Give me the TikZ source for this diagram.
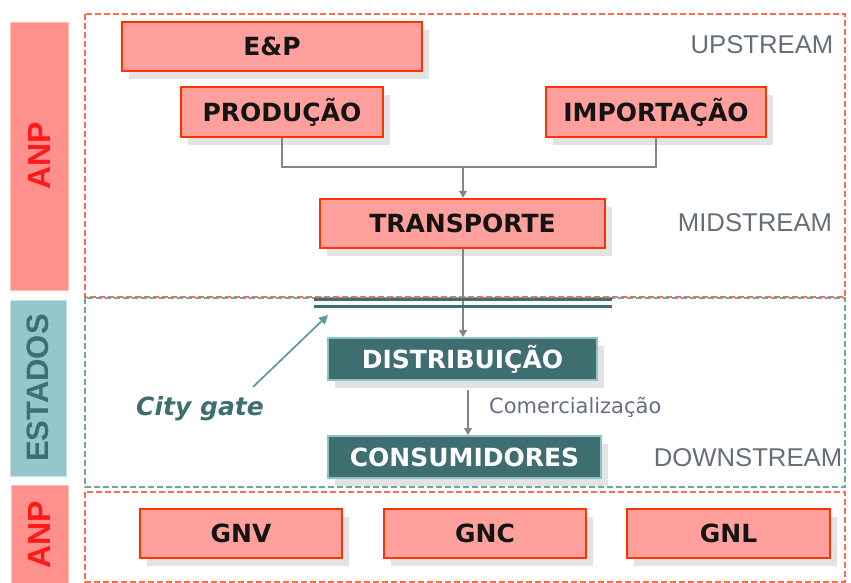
\documentclass[tikz,border=0pt]{standalone}
\usepackage{fontspec}
\setmainfont{Liberation Sans}
\newfontfamily\dejavu{DejaVu Sans}
\usetikzlibrary{shadows,arrows.meta,calc}
\definecolor{boxfill}{HTML}{FFA09C}
\definecolor{boxline}{HTML}{FF3300}
\definecolor{shadowgray}{HTML}{E3E3E3}
\definecolor{tealdark}{HTML}{3F6E70}
\definecolor{teallight}{HTML}{8CC4C6}
\definecolor{barred}{HTML}{FF908C}
\definecolor{barredline}{HTML}{F3C9B5}
\definecolor{barteal}{HTML}{95C7CA}
\definecolor{barteallline}{HTML}{C8E2E4}
\definecolor{ancred}{HTML}{FF1A1A}
\definecolor{stagegray}{HTML}{666E7A}
\definecolor{dashred}{HTML}{FF6A50}
\definecolor{dashteal}{HTML}{6FA5A8}
\definecolor{flowgray}{HTML}{858585}
\definecolor{comgray}{HTML}{666C88}
\definecolor{gatearrow}{HTML}{5F989C}
\begin{document}
\begin{tikzpicture}[x=1pt,y=-1pt,
  boxshadow/.style={drop shadow={shadow xshift=7pt,shadow yshift=-8pt,fill=shadowgray,opacity=1}},
  redbox/.style={boxshadow,draw=boxline,line width=2.4pt,fill=boxfill,minimum height=49pt,inner sep=0pt,
     font=\dejavu\bfseries\fontsize{25}{28}\selectfont,text=black!92},
  tealbox/.style={boxshadow,draw=teallight,line width=2pt,fill=tealdark,minimum height=42pt,inner sep=0pt,
     font=\dejavu\bfseries\fontsize{25}{28}\selectfont,text=white},
  sidebar/.style={inner sep=0pt,line width=0.8pt},
  stagelabel/.style={font=\fontsize{25.7}{28}\selectfont,text=stagegray,inner sep=0pt},
  flow/.style={draw=flowgray,line width=1.3pt},
  flowarrow/.style={flow,-{Triangle[width=8pt,length=7pt]}},
  dashbox/.style={line width=1.3pt,dash pattern=on 6pt off 3pt}
]
\useasboundingbox (0,0) rectangle (851,583);
% dashed frames
\draw[dashbox,draw=dashred] (85,14) rectangle (845,297);
\draw[dashbox,draw=dashteal] (85,298) rectangle (845,487);
\draw[dashbox,draw=dashred] (85,492) rectangle (845,582);
% side bars
\node[sidebar,draw=barredline,fill=barred,minimum width=58pt,minimum height=268pt] (anp1) at (39,156) {};
\node[rotate=90,font=\bfseries\fontsize{32}{34}\selectfont,text=ancred] (anp1t) at (anp1.center) {ANP};
\node[sidebar,draw=barteallline,fill=barteal,minimum width=56pt,minimum height=176pt] (est) at (38,388) {};
\node[rotate=90,font=\bfseries\fontsize{31}{34}\selectfont,text=tealdark] (estt) at (est.center) {ESTADOS};
\node[sidebar,draw=barredline,fill=barred,minimum width=57pt,minimum height=100pt] (anp2) at (39.5,535) {};
\node[rotate=90,font=\bfseries\fontsize{32}{34}\selectfont,text=ancred] (anp2t) at (anp2.center) {ANP};
% boxes
\node[redbox,minimum width=300pt] (ep) at (272,46.5) {E\&P};
\node[redbox,minimum width=202pt,minimum height=50pt] (prod) at (282,112) {PRODUÇÃO};
\node[redbox,minimum width=220pt,minimum height=50pt] (imp) at (656,112) {IMPORTAÇÃO};
\node[redbox,minimum width=285pt] (trans) at (462.5,223.5) {TRANSPORTE};
\node[tealbox,minimum width=269pt] (dist) at (462.5,359) {DISTRIBUIÇÃO};
\node[tealbox,minimum width=273pt] (cons) at (464.5,457) {CONSUMIDORES};
\node[redbox,minimum width=202pt] (gnv) at (241,533.5) {GNV};
\node[redbox,minimum width=202pt] (gnc) at (485,533.5) {GNC};
\node[redbox,minimum width=203pt] (gnl) at (728.5,533.5) {GNL};
% stage labels
\node[stagelabel] (up) at (762,45) {UPSTREAM};
\node[stagelabel] (mid) at (755,223) {MIDSTREAM};
\node[stagelabel] (down) at (748,458) {DOWNSTREAM};
% connectors
\coordinate (jn) at (463,167);
\draw[flow] (prod.south) |- (jn) -| (imp.south);
\draw[flowarrow] (jn) -- (jn |- trans.north);
\draw[flowarrow] (trans.south -| jn) -- (jn |- dist.north);
% city gate double line
\coordinate (gl) at (314,299);
\coordinate (gr) at (612,299);
\draw[tealdark,line width=3pt] (gl) -- (gr);
\draw[tealdark,line width=3pt] ($(gl)+(0,7)$) -- ($(gr)+(0,7)$);
% commercialisation
\coordinate (ca) at (468,390);
\draw[flowarrow] (ca) -- (ca |- cons.north);
\node[font=\dejavu\fontsize{21}{24}\selectfont,text=comgray,anchor=west,inner sep=0pt] (com) at (489,407) {Comercialização};
% city gate label
\node[font=\dejavu\bfseries\itshape\fontsize{25}{28}\selectfont,text=tealdark,inner sep=0pt] (gate) at (200,409) {City gate};
\coordinate (gatetip) at (328,315);
\draw[gatearrow,line width=1.7pt,-{Triangle[width=9pt,length=9pt]}] (253,387) -- (gatetip);
\end{tikzpicture}
\end{document}
